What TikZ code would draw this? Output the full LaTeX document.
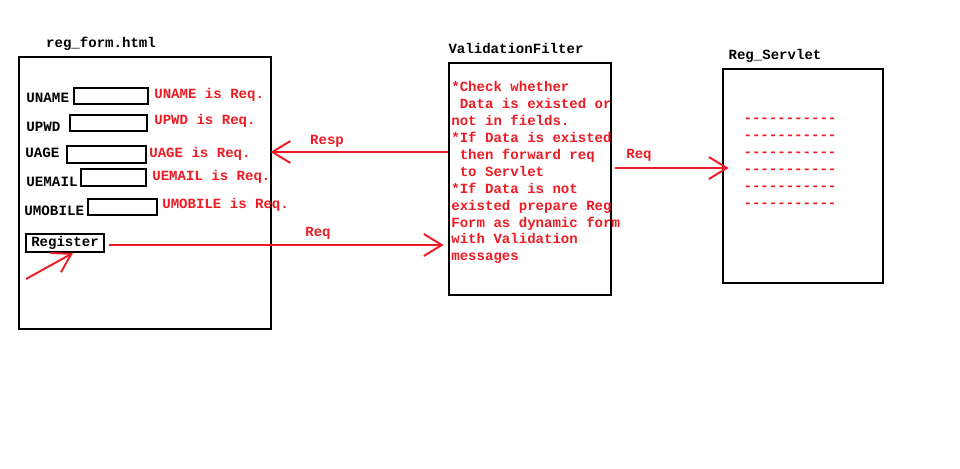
\documentclass[tikz,border=0pt]{standalone}
\usepackage{fontspec}
\setmonofont{Liberation Mono}
\usetikzlibrary{arrows.meta,positioning,calc}
\definecolor{paintred}{RGB}{237,28,36}

\begin{document}
\begin{tikzpicture}[x=0.02cm,y=-0.02cm]
        \tikzstyle{page} = [rectangle, draw, line width=1.5pt, inner sep=0pt]
        \tikzstyle{field} = [rectangle, draw, line width=1.1pt, inner sep=0pt, minimum height=0.32cm]
        \tikzstyle{title} = [inner sep=0pt, font=\ttfamily\bfseries\fontsize{8}{9}\selectfont]
        \tikzstyle{lbl} = [anchor=west, inner sep=0pt, font=\ttfamily\bfseries\fontsize{8.1}{10}\selectfont]
        \tikzstyle{msg} = [anchor=west, inner sep=0pt, text=paintred, font=\ttfamily\bfseries\fontsize{8}{9}\selectfont]
        \tikzstyle{flow} = [draw=paintred, line width=1.1pt, -{Straight Barb[length=0.36cm,width=0.44cm]}]

        \useasboundingbox (0,0) rectangle (960,468);

        % reg_form.html
        \node[page, minimum width=5.04cm, minimum height=5.44cm] (form) at (145,193) {};
        \node[title] (formtitle) at (101,44) {reg\_form.html};

        \node[lbl] (uname) at (26,98) {UNAME};
        \node[field, minimum width=1.48cm] (unamebox) at (111,96) {};
        \node[msg] (unamemsg) at (154,95) {UNAME is Req.};

        \node[lbl] (upwd) at (26,127) {UPWD};
        \node[field, minimum width=1.54cm] (upwdbox) at (108.5,123) {};
        \node[msg] (upwdmsg) at (154,121) {UPWD is Req.};

        \node[lbl] (uage) at (25,153) {UAGE};
        \node[field, minimum width=1.58cm, minimum height=0.34cm] (uagebox) at (106.5,154.5) {};
        \node[msg] (uagemsg) at (149,154) {UAGE is Req.};

        \node[lbl] (uemail) at (26,182) {UEMAIL};
        \node[field, minimum width=1.3cm, minimum height=0.34cm] (uemailbox) at (113.5,177.5) {};
        \node[msg] (uemailmsg) at (152,177) {UEMAIL is Req.};

        \node[lbl] (umobile) at (24,211) {UMOBILE};
        \node[field, minimum width=1.38cm] (umobilebox) at (122.5,207) {};
        \node[msg] (umobilemsg) at (162,205) {UMOBILE is Req.};

        \node[field, minimum width=1.56cm, minimum height=0.36cm, font=\ttfamily\bfseries\fontsize{8}{9}\selectfont] (regbtn) at (65,243) {Register};
        \coordinate (click) at (26,279);

        % ValidationFilter
        \node[page, minimum width=3.24cm, minimum height=4.64cm] (filter) at (530,179) {};
        \node[title] (filtertitle) at (516,48) {ValidationFilter};
        \node[msg, anchor=north west, align=left, font=\ttfamily\bfseries\fontsize{8}{9.64}\selectfont] (rules) at (451,81)
          {*Check whether\\
           \ Data is existed or\\
           not in fields.\\
           *If Data is existed\\
           \ then forward req\\
           \ to Servlet\\
           *If Data is not\\
           existed prepare Reg\\
           Form as dynamic form\\
           with Validation\\
           messages};

        % Reg_Servlet
        \node[page, minimum width=3.2cm, minimum height=4.28cm] (servlet) at (803,176) {};
        \node[title] (servlettitle) at (775,56) {Reg\_Servlet};
        \node[msg, anchor=center, align=left, font=\ttfamily\bfseries\fontsize{8}{9.64}\selectfont] (stub) at (790,163)
          {-----------\\-----------\\-----------\\-----------\\-----------\\-----------};

        % requests and response
        \draw[flow] (click) -- ($(regbtn.south west)!0.6!(regbtn.south east)$);
        \draw[flow, shorten <=2.3pt, shorten >=2.3pt] (regbtn.east |- 0,245) -- (filter.west |- 0,245);
        \node[msg, anchor=center] (reqlbl) at (318,233) {Req};
        \draw[flow, shorten >=-1pt] (filter.west |- 0,152) -- (form.east |- 0,152);
        \node[msg, anchor=center] (resplbl) at (327,141) {Resp};
        \draw[flow, shorten <=1.7pt, shorten >=-4pt] (filter.east |- 0,168) -- (servlet.west |- 0,168);
        \node[msg, anchor=center] (fwdlbl) at (639,155) {Req};
\end{tikzpicture}
\end{document}
